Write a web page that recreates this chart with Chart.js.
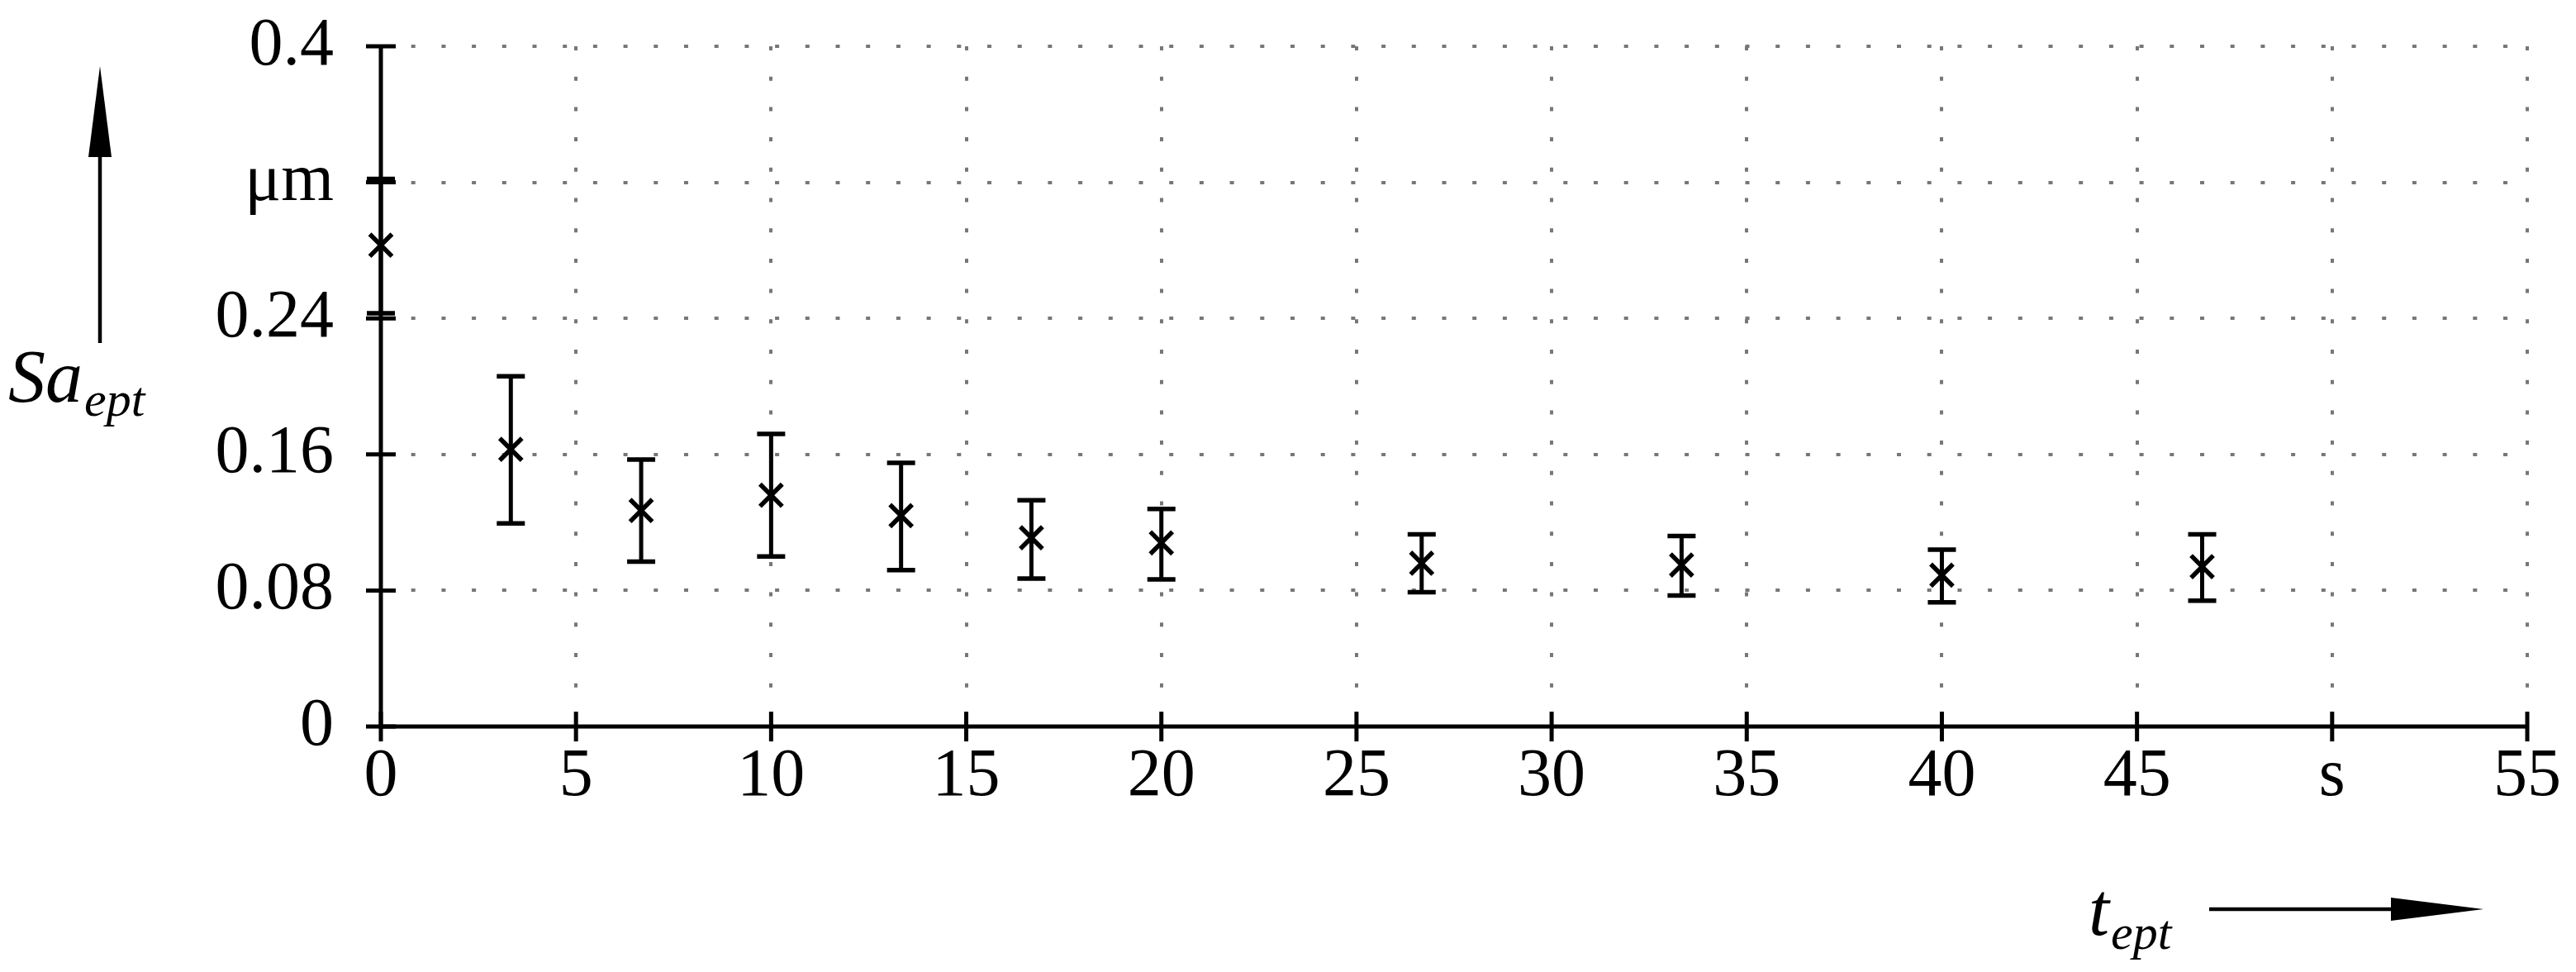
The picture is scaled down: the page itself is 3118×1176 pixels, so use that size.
<!DOCTYPE html>
<html>
<head>
<meta charset="utf-8">
<script src="https://cdn.jsdelivr.net/npm/chart.js@4.4.1/dist/chart.umd.min.js"></script>
<style>
  html, body { margin: 0; padding: 0; background: #fff; }
  canvas { display: block; }
</style>
</head>
<body>
<canvas id="chart" width="3118" height="1176"></canvas>
<script>
// Sa_ept over t_ept (mean with min/max spread)
const tValues = [0, 3.33, 6.67, 10, 13.33, 16.67, 20, 26.67, 33.33, 40, 46.67];
const saMean  = [0.283, 0.163, 0.127, 0.136, 0.124, 0.111, 0.108, 0.096, 0.095, 0.089, 0.094];
const saLow   = [0.243, 0.1195, 0.097, 0.100, 0.092, 0.087, 0.0865, 0.079, 0.077, 0.073, 0.074];
const saHigh  = [0.322, 0.206, 0.157, 0.172, 0.155, 0.133, 0.128, 0.113, 0.112, 0.104, 0.113];

// tick labels: unit text replaces one number on each axis
const xTickLabels = { 50: 's' };
const yTickLabels = { 0.32: 'μm' };

const SERIF = '"Liberation Serif", "DejaVu Serif", serif';

function arrowHead(ctx, tipX, tipY, dir) {
    // dir: 'up' or 'right'
    ctx.beginPath();
    if (dir === 'up') {
        ctx.moveTo(tipX, tipY);
        ctx.lineTo(tipX - 14, tipY + 110);
        ctx.lineTo(tipX + 14, tipY + 110);
    } else {
        ctx.moveTo(tipX, tipY);
        ctx.lineTo(tipX - 112, tipY - 14);
        ctx.lineTo(tipX - 112, tipY + 14);
    }
    ctx.closePath();
    ctx.fill();
}

const decorations = {
    id: 'decorations',
    beforeDatasetsDraw(chart) {
        const { ctx, scales: { x, y } } = chart;
        ctx.save();
        ctx.strokeStyle = '#000';
        for (let i = 0; i < tValues.length; i++) {
            const px = x.getPixelForValue(tValues[i]);
            const lo = y.getPixelForValue(saLow[i]);
            const hi = y.getPixelForValue(saHigh[i]);
            ctx.lineWidth = 5;
            ctx.beginPath();
            ctx.moveTo(px, lo);
            ctx.lineTo(px, hi);
            ctx.stroke();
            ctx.lineWidth = 5.5;
            ctx.beginPath();
            ctx.moveTo(px - 17, lo);
            ctx.lineTo(px + 17, lo);
            ctx.moveTo(px - 17, hi);
            ctx.lineTo(px + 17, hi);
            ctx.stroke();
        }
        ctx.restore();
    },
    afterDraw(chart) {
        const { ctx, scales: { x, y } } = chart;
        const x0 = x.getPixelForValue(0);
        const y0 = y.getPixelForValue(0);
        ctx.save();
        ctx.strokeStyle = '#000';
        ctx.fillStyle = '#000';

        // axis lines
        ctx.lineWidth = 5;
        ctx.beginPath();
        ctx.moveTo(x0, y.getPixelForValue(y.max));
        ctx.lineTo(x0, y0);
        ctx.lineTo(x.getPixelForValue(x.max), y0);
        ctx.stroke();

        // tick marks crossing the axes
        ctx.lineWidth = 5;
        ctx.beginPath();
        y.ticks.forEach(t => {
            const py = y.getPixelForValue(t.value);
            ctx.moveTo(x0 - 18, py);
            ctx.lineTo(x0 + 18, py);
        });
        x.ticks.forEach(t => {
            const px = x.getPixelForValue(t.value);
            ctx.moveTo(px, y0 - 18);
            ctx.lineTo(px, y0 + 18);
        });
        ctx.stroke();

        // y title with arrow
        ctx.lineWidth = 4.5;
        ctx.beginPath();
        ctx.moveTo(121, 415);
        ctx.lineTo(121, 185);
        ctx.stroke();
        arrowHead(ctx, 121, 80, 'up');

        ctx.textBaseline = 'alphabetic';
        ctx.textAlign = 'left';
        ctx.font = 'italic 90px ' + SERIF;
        ctx.fillText('Sa', 10, 486);
        let w = ctx.measureText('Sa').width;
        ctx.font = 'italic 60px ' + SERIF;
        ctx.fillText('ept', 10 + w + 2, 503);

        // x title with arrow
        ctx.font = 'italic 90px ' + SERIF;
        ctx.fillText('t', 2528, 1131);
        w = ctx.measureText('t').width;
        ctx.font = 'italic 60px ' + SERIF;
        ctx.fillText('ept', 2528 + w + 2, 1148);

        ctx.lineWidth = 4.5;
        ctx.beginPath();
        ctx.moveTo(2674, 1100);
        ctx.lineTo(2900, 1100);
        ctx.stroke();
        arrowHead(ctx, 3006, 1100, 'right');

        ctx.restore();
    }
};

// keep the plot area where the layout padding puts it (no label overhang)
function noOverhang(s) {
    s.paddingTop = 0;
    s.paddingBottom = 0;
    s.paddingLeft = 0;
    s.paddingRight = 0;
}

const ctx = document.getElementById('chart').getContext('2d');

new Chart(ctx, {
    type: 'scatter',
    data: {
        datasets: [{
            label: 'Sa_ept',
            data: tValues.map((t, i) => ({ x: t, y: saMean[i] })),
            pointStyle: 'crossRot',
            pointRadius: 19,
            pointHoverRadius: 19,
            borderWidth: 5.5,
            borderColor: '#000',
            backgroundColor: '#000',
            clip: false
        }]
    },
    options: {
        responsive: false,
        animation: false,
        devicePixelRatio: 1,
        layout: { padding: { top: 56, right: 59, left: 0, bottom: 0 } },
        plugins: {
            legend: { display: false },
            tooltip: { enabled: false }
        },
        scales: {
            x: {
                type: 'linear',
                min: 0,
                max: 55,
                afterFit: s => { s.height = 297; noOverhang(s); },
                ticks: {
                    stepSize: 5,
                    padding: 12,
                    color: '#000',
                    font: { family: SERIF, size: 82 },
                    maxRotation: 0,
                    callback: v => xTickLabels[v] !== undefined ? xTickLabels[v] : v
                },
                grid: { color: '#777', lineWidth: 4, drawTicks: false },
                border: { display: false, dash: [5, 31.7] }
            },
            y: {
                type: 'linear',
                min: 0,
                max: 0.4,
                afterFit: s => { s.width = 461; noOverhang(s); },
                ticks: {
                    stepSize: 0.08,
                    padding: 57,
                    color: '#000',
                    font: { family: SERIF, size: 82 },
                    callback: v => {
                        const key = Math.round(v * 100) / 100;
                        return yTickLabels[key] !== undefined ? yTickLabels[key] : String(key);
                    }
                },
                grid: { color: '#777', lineWidth: 4, drawTicks: false },
                border: { display: false, dash: [5, 31.7] }
            }
        }
    },
    plugins: [decorations]
});
</script>
</body>
</html>
